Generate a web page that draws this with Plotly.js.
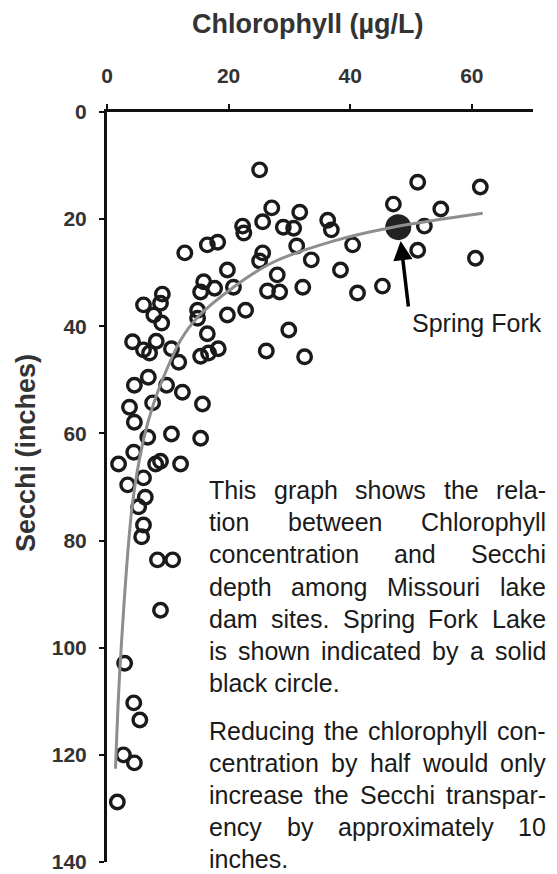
<!DOCTYPE html>
<html><head><meta charset="utf-8">
<script src="https://cdn.plot.ly/plotly-3.0.1.min.js"></script>
<style>html,body{margin:0;padding:0;background:#fff;}#chart{width:557px;height:874px;}</style>
</head><body><div id="chart"></div>
<script>
// Lake sites: chlorophyll (µg/L) and Secchi depth (inches)
const chlorophyll = [25.1,27.1,31.7,22.3,22.5,25.6,29.0,30.7,36.3,36.9,47.1,12.8,16.5,18.2,25.6,25.1,31.2,33.6,40.4,19.8,38.4,28.0,20.8,15.9,15.4,17.7,26.4,28.4,32.2,41.2,45.3,9.1,8.8,6.0,7.7,9.0,14.9,14.9,19.8,22.8,29.9,16.5,4.2,8.1,6.0,7.0,10.6,11.8,15.4,16.7,18.3,4.5,6.8,9.8,12.4,3.7,4.5,7.5,15.7,6.7,10.6,15.4,1.9,4.4,8.0,8.8,12.1,3.4,6.0,6.3,5.2,6.0,5.7,8.3,10.8,8.8,2.9,4.4,5.4,2.7,4.5,1.7,51.1,61.4,54.9,52.2,51.1,60.6,26.2,32.5];
const secchi = [10.8,17.9,18.7,21.3,22.6,20.5,21.5,21.7,20.2,22.0,17.2,26.3,24.8,24.3,26.3,27.8,25.0,27.6,24.8,29.5,29.5,30.4,32.7,31.7,33.6,32.9,33.4,33.6,32.7,33.8,32.5,34.0,35.7,36.0,37.9,39.4,37.0,38.5,37.9,37.0,40.7,41.4,42.9,42.8,44.4,45.0,44.2,46.7,45.6,45.0,44.2,51.0,49.5,51.0,52.3,55.1,57.9,54.3,54.5,60.7,60.1,60.9,65.7,63.5,65.7,65.2,65.7,69.6,68.3,71.9,73.7,77.1,79.3,83.6,83.6,93.0,102.9,110.3,113.5,120.0,121.5,128.8,13.1,14.0,18.1,21.3,25.8,27.3,44.6,45.7];
// Spring Fork Lake
const springForkChl = [47.9];
const springForkSecchi = [21.5];
// fitted curve
const fitChl = [1.4,2.2,4.2,6.0,7.7,10.0,12.1,14.9,20.8,27.4,37.2,46.6,61.8];
const fitSecchi = [122.6,102.5,73.0,61.2,54.3,47.6,42.6,38.3,32.7,28.0,24.1,21.6,18.9];
// ticks
const xTicks = [0,20,40,60];
const yTicks = [0,20,40,60,80,100,120,140];
const xTitle = 'Chlorophyll (µg/L)';
const yTitle = 'Secchi (inches)';
const arrowLabel = 'Spring Fork';
const paragraph1 = ['This graph shows the rela-','tion between Chlorophyll','concentration and Secchi','depth among Missouri lake','dam sites. Spring Fork Lake','is shown indicated by a solid','black circle.'];
const paragraph2 = ['Reducing the chlorophyll con-','centration by half would only','increase the Secchi transpar-','ency by approximately 10','inches.'];

const W = 557, H = 874;
const M = {l:107, r:24, t:112, b:12};
const PW = W - M.l - M.r, PH = H - M.t - M.b;
const px2x = p => (p - M.l) / PW;
const py2y = p => (H - M.b - p) / PH;

const FONT = 'Liberation Sans, Arial, sans-serif';
const annotations = [];

// axis titles
annotations.push({xref:'paper',yref:'paper',x:px2x(308),y:py2y(24),xanchor:'center',yanchor:'middle',showarrow:false,
  text:xTitle,font:{family:FONT,size:27,weight:'bold',color:'#333'}});
annotations.push({xref:'paper',yref:'paper',x:px2x(26),y:py2y(453),xanchor:'center',yanchor:'middle',showarrow:false,textangle:-90,
  text:yTitle,font:{family:FONT,size:27,weight:'bold',color:'#333'}});

// arrow to Spring Fork
annotations.push({xref:'x',yref:'y',axref:'x',ayref:'y',x:48.3,y:24.1,ax:49.6,ay:36.6,text:'',showarrow:true,
  arrowhead:2,arrowsize:1.1,arrowwidth:3.5,arrowcolor:'#000'});
annotations.push({xref:'paper',yref:'paper',x:px2x(411),y:py2y(323),xanchor:'left',yanchor:'middle',showarrow:false,
  text:arrowLabel,font:{family:FONT,size:25,color:'#1a1a1a'},borderpad:0});

// justified paragraph
const ctx = document.createElement('canvas').getContext('2d');
ctx.font = "25px 'Liberation Sans'";
const LEFT = 208, RIGHT = 545;
function addLine(line, cy, justify){
  const words = line.split(' ');
  if(!justify || words.length < 2){
    annotations.push({xref:'paper',yref:'paper',x:px2x(LEFT),y:py2y(cy),xanchor:'left',yanchor:'middle',showarrow:false,
      text:line,font:{family:FONT,size:25,color:'#1a1a1a'},borderpad:0});
    return;
  }
  const widths = words.map(w => ctx.measureText(w).width);
  const total = widths.reduce((a,b)=>a+b,0);
  const gap = (RIGHT - LEFT - total) / (words.length - 1);
  let xpos = LEFT;
  words.forEach((w,i) => {
    annotations.push({xref:'paper',yref:'paper',x:px2x(xpos),y:py2y(cy),xanchor:'left',yanchor:'middle',showarrow:false,
      text:w,font:{family:FONT,size:25,color:'#1a1a1a'},borderpad:0});
    xpos += widths[i] + gap;
  });
}
const p1y = [490,522,554,587,619,651,683];
const p2y = [731,763,795,827,859];
paragraph1.forEach((l,i)=>addLine(l,p1y[i],i<paragraph1.length-1));
paragraph2.forEach((l,i)=>addLine(l,p2y[i],i<paragraph2.length-1));

const traces = [
  {x:chlorophyll,y:secchi,type:'scatter',mode:'markers',cliponaxis:false,
   marker:{symbol:'circle-open',size:13.5,color:'#1a1a1a',line:{width:3.4}},hoverinfo:'x+y'},
  {x:springForkChl,y:springForkSecchi,type:'scatter',mode:'markers',cliponaxis:false,
   marker:{symbol:'circle',size:26,color:'#222'}},
  {x:fitChl,y:fitSecchi,type:'scatter',mode:'lines',line:{color:'#8e8e8e',width:3,shape:'spline',smoothing:1}}
];

const layout = {
  width:W,height:H,margin:M,showlegend:false,
  paper_bgcolor:'#fff',plot_bgcolor:'#fff',
  xaxis:{side:'top',range:[0,PW/6.08],tickvals:xTicks,ticktext:xTicks.map(String),showgrid:false,zeroline:false,
    showline:true,linewidth:3,linecolor:'#111',ticks:'outside',ticklen:5,tickwidth:2,tickcolor:'#111',
    ticklabelstandoff:13,tickfont:{family:FONT,size:21,weight:'bold',color:'#333'},fixedrange:true},
  yaxis:{range:[140,0],tickvals:yTicks,ticktext:yTicks.map(String),showgrid:false,zeroline:false,
    showline:true,linewidth:3,linecolor:'#111',ticks:'outside',ticklen:5,tickwidth:2,tickcolor:'#111',
    ticklabelstandoff:8,tickfont:{family:FONT,size:21,weight:'bold',color:'#333'},fixedrange:true},
  annotations:annotations
};
Plotly.newPlot('chart',traces,layout,{displayModeBar:false,staticPlot:true});
</script></body></html>
